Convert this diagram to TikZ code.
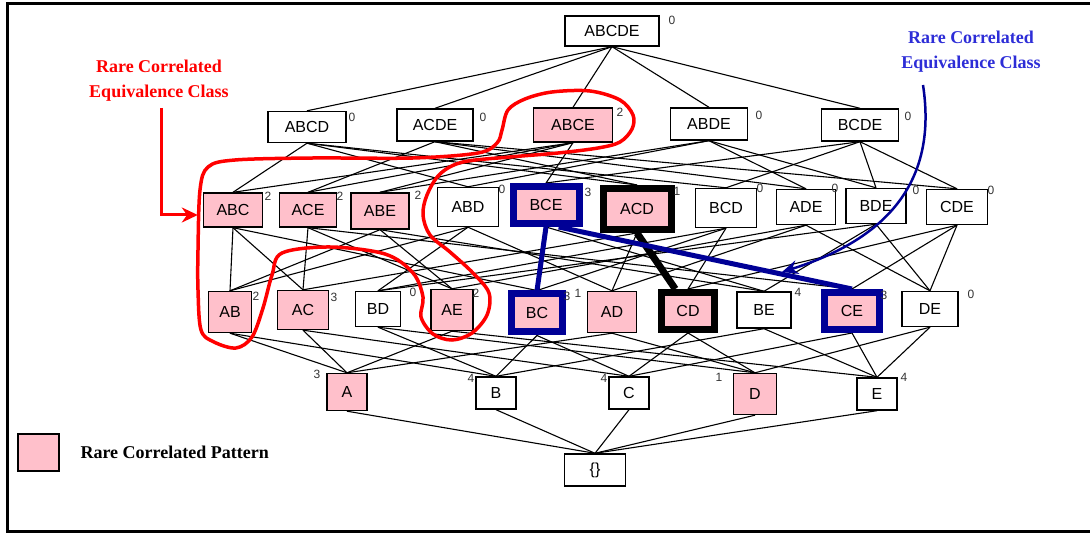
\documentclass[tikz,border=0pt]{standalone}
\usepackage{fontspec}
\setmainfont{Liberation Serif}
\setsansfont{Liberation Sans}
\usetikzlibrary{arrows.meta}
\definecolor{rarepink}{RGB}{255,192,203}
\definecolor{navy}{RGB}{0,0,150}
\definecolor{txtblue}{RGB}{45,45,215}
\pgfdeclarelayer{bg}
\pgfsetlayers{bg,main}
\begin{document}
\begin{tikzpicture}[x=1pt,y=-1pt,
  box/.style={draw, line width=1.4pt, fill=white, inner sep=0pt, font=\sffamily\fontsize{16}{19}\selectfont},
  rare/.style={box, fill=rarepink},
  sz/.style 2 args={minimum width=#1pt, minimum height=#2pt},
  bluethick/.style={draw=navy, line width=7pt},
  blackthick/.style={draw=black, line width=7pt},
  cnt/.style={inner sep=0pt, font=\sffamily\fontsize{12}{14}\selectfont, text=black!80},
  lnk/.style={line width=1.1pt},
  annot/.style={font=\rmfamily\bfseries\fontsize{18}{25}\selectfont, align=center},
]
\useasboundingbox (0,0) rectangle (1090,534);
% frame
\draw[line width=3pt] (1100,4) -- (7,4) -- (7,531) -- (1100,531);

% level 5
\node[box, sz={94}{30}] (ABCDE) at (612,31) {ABCDE};
% level 4
\node[box, sz={78}{31}] (ABCD) at (307,127) {ABCD};
\node[box, sz={76}{32}] (ACDE) at (435,125) {ACDE};
\node[rare, sz={79}{34}] (ABCE) at (573,125) {ABCE};
\node[box, sz={77}{32}] (ABDE) at (709,124) {ABDE};
\node[box, sz={77}{32}] (BCDE) at (860,125) {BCDE};
% level 3
\node[rare, sz={59}{34}] (ABC) at (233,210) {ABC};
\node[rare, sz={57}{34}] (ACE) at (308,210) {ACE};
\node[rare, sz={58}{36}] (ABE) at (380,211) {ABE};
\node[box, sz={61}{39}] (ABD) at (468,207) {ABD};
\node[rare, bluethick, sz={66}{37}] (BCE) at (546,205) {BCE};
\node[rare, blackthick, sz={68}{41}] (ACD) at (637,209) {ACD};
\node[box, sz={61}{39}] (BCD) at (726,208) {BCD};
\node[box, sz={59}{35}] (ADE) at (806,207) {ADE};
\node[box, sz={60}{35}] (BDE) at (876,206) {BDE};
\node[box, sz={61}{35}] (CDE) at (957,207) {CDE};
% level 2
\node[rare, sz={43}{41}] (AB) at (230,312) {AB};
\node[rare, sz={51}{39}] (AC) at (303,310) {AC};
\node[box, sz={45}{35}] (BD) at (378,309) {BD};
\node[rare, sz={42}{41}] (AE) at (452,310) {AE};
\node[rare, bluethick, sz={51}{38}] (BC) at (537,313) {BC};
\node[rare, sz={49}{41}] (AD) at (612,312) {AD};
\node[rare, blackthick, sz={53}{37}] (CD) at (688,311) {CD};
\node[box, sz={54}{36}] (BE) at (764,310) {BE};
\node[rare, bluethick, sz={55}{37}] (CE) at (852,311) {CE};
\node[box, sz={56}{35}] (DE) at (930,309) {DE};
% level 1
\node[rare, sz={40}{37}] (A) at (347,392) {A};
\node[box, sz={40}{32}] (B) at (496,393) {B};
\node[box, sz={40}{32}] (C) at (629,393) {C};
\node[rare, sz={43}{41}] (D) at (755,394) {D};
\node[box, sz={40}{32}] (E) at (877,394) {E};
% level 0
\node[box, sz={61}{32}] (E0) at (595,470) {\{\}};

% counts
\node[cnt] (cABCDE) at (672,20) {0};
\node[cnt] (cABCD) at (352,117) {0};
\node[cnt] (cACDE) at (483,117) {0};
\node[cnt] (cABCE) at (620,112) {2};
\node[cnt] (cABDE) at (759,115) {0};
\node[cnt] (cBCDE) at (908,116) {0};
\node[cnt] (cABC) at (268,196) {2};
\node[cnt] (cACE) at (340,196) {2};
\node[cnt] (cABE) at (418,195) {2};
\node[cnt] (cABD) at (502,189) {0};
\node[cnt] (cBCE) at (588,192) {3};
\node[cnt] (cACD) at (677,191) {1};
\node[cnt] (cBCD) at (760,188) {0};
\node[cnt] (cADE) at (835,188) {0};
\node[cnt] (cBDE) at (916,190) {0};
\node[cnt] (cCDE) at (991,190) {0};
\node[cnt] (cAB) at (256,296) {2};
\node[cnt] (cAC) at (334,297) {3};
\node[cnt] (cBD) at (413,292) {0};
\node[cnt] (cAE) at (476,293) {2};
\node[cnt] (cBC) at (567,296) {3};
\node[cnt] (cAD) at (578,293) {1};
\node[cnt] (cBE) at (798,292) {4};
\node[cnt] (cCE) at (884,295) {3};
\node[cnt] (cDE) at (971,294) {0};
\node[cnt] (cA) at (317,374) {3};
\node[cnt] (cB) at (471,378) {4};
\node[cnt] (cC) at (604,378) {4};
\node[cnt] (cD) at (719,377) {1};
\node[cnt] (cE) at (904,377) {4};

% lattice edges
\begin{pgfonlayer}{bg}
\foreach \u/\l in {ABCDE/ABCD, ABCDE/ACDE, ABCDE/ABCE, ABCDE/ABDE, ABCDE/BCDE,
  ABCD/ABC, ABCD/ABD, ABCD/ACD, ABCD/BCD,
  ACDE/ACD, ACDE/ACE, ACDE/ADE, ACDE/CDE,
  ABCE/ABC, ABCE/ABE, ABCE/ACE, ABCE/BCE,
  ABDE/ABD, ABDE/ABE, ABDE/ADE, ABDE/BDE,
  BCDE/BCD, BCDE/BCE, BCDE/BDE, BCDE/CDE,
  ABC/AB, ABC/AC, ABC/BC,
  ACE/AC, ACE/AE, ACE/CE,
  ABE/AB, ABE/AE, ABE/BE,
  ABD/AB, ABD/AD, ABD/BD,
  BCE/BE,
  ACD/AC, ACD/AD,
  BCD/BC, BCD/BD, BCD/CD,
  ADE/AD, ADE/AE, ADE/DE,
  BDE/BD, BDE/BE, BDE/DE,
  CDE/CD, CDE/CE, CDE/DE,
  AB/A, AB/B, AC/A, AC/C, BD/B, BD/D, AE/A, AE/E, BC/B, BC/C,
  AD/A, AD/D, CD/C, CD/D, BE/B, BE/E, CE/C, CE/E, DE/D, DE/E,
  A/E0, B/E0, C/E0, D/E0, E/E0}
  \draw[lnk] (\u.south) -- (\l.north);
\end{pgfonlayer}

% highlighted edges
\draw[line width=7pt] (ACD.south) -- (CD.120);
\draw[navy, line width=5pt] (BCE.south) -- (BC.north);
\draw[navy, line width=5pt] (BCE.-60) -- (CE.north);

% red equivalence class outline
\draw[red, line width=3.5pt] plot[smooth cycle, tension=0.55] coordinates {
 (502,130) (508,110) (525,99) (552,92) (590,91) (620,100) (633,115) (632,129)
 (620,142) (598,148) (558,153) (510,157) (463,162) (440,174) (427,195) (423,215)
 (430,235) (450,252) (473,273) (489,293) (487,315) (472,333) (452,340) (433,334)
 (421,317) (423,297) (413,273) (385,254) (330,247) (282,253) (272,275) (263,308)
 (252,337) (236,348) (214,342) (201,330) (198,290) (198,250) (200,190) (208,167)
 (235,160) (313,158) (413,158) (478,153) (497,143)};

% annotations
\node[annot, text=red] (redlabel) at (159,81) {Rare Correlated\\Equivalence Class};
\node[annot, text=txtblue] (bluelabel) at (971,52) {Rare Correlated\\Equivalence Class};
\coordinate (rs) at (161,108);
\coordinate (rc) at (161,215);
\draw[red, line width=3pt, -{Stealth[length=16pt,width=15pt]}, shorten >=5pt] (rs) -- (rc) -- (ABC.west |- rc);
\coordinate (bs) at (923,85);
\coordinate (be) at (782,272);
\draw[navy, line width=2.5pt, -{Stealth[length=16pt,width=14pt]}] (bs) .. controls (936,170) and (900,235) .. (be);

% legend
\node[rare, sz={41}{37}] (legbox) at (38.5,452.5) {};
\node[annot, text=black, anchor=west] (legtext) at (77,452) {Rare Correlated Pattern};
\end{tikzpicture}
\end{document}
